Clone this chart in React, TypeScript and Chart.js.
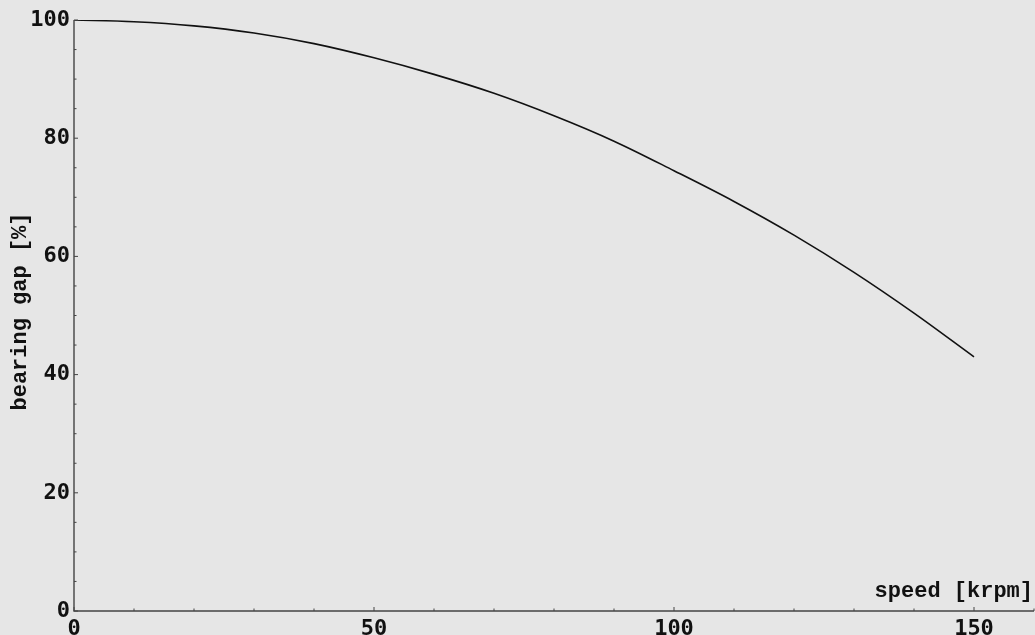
import React, { useEffect, useRef } from "react";
import { Chart, registerables } from "chart.js";

Chart.register(...registerables);

const speedKrpm = [0, 10, 20, 30, 40, 50, 60, 70, 80, 90, 100, 110, 120, 130, 140, 150];
const bearingGapPct = [100, 99.7, 99.0, 97.8, 96.0, 93.6, 90.8, 87.6, 83.8, 79.5, 74.5, 69.3, 63.6, 57.3, 50.4, 43.0];
const xTickValues = [0, 50, 100, 150];
const yTickValues = [0, 20, 40, 60, 80, 100];
const xMinorStep = 10;
const yMinorStep = 5;
const xTitle = "speed [krpm]";
const yTitle = "bearing gap [%]";

const W = 1035;
const H = 635;
const BG = "#e6e6e6";
const TITLE_FONT = "bold 22px 'Liberation Mono', 'Courier New', monospace";

const axesPlugin = {
  id: "mmaAxes",
  afterDraw(chart: any) {
    const ctx = chart.ctx;
    const xs = chart.scales.x;
    const ys = chart.scales.y;
    const left = xs.left;
    const right = xs.right;
    const top = ys.top;
    const bottom = ys.bottom;
    ctx.save();
    ctx.strokeStyle = "#444";
    ctx.lineWidth = 1.4;
    ctx.beginPath();
    ctx.moveTo(left, top);
    ctx.lineTo(left, bottom);
    ctx.lineTo(right, bottom);
    ctx.stroke();
    ctx.lineWidth = 1;
    for (let v = xs.min; v <= xs.max + 1e-9; v += xMinorStep) {
      const px = xs.getPixelForValue(v);
      const major = xTickValues.includes(v);
      ctx.beginPath();
      ctx.moveTo(px, bottom);
      ctx.lineTo(px, bottom - (major ? 4 : 2.5));
      ctx.stroke();
    }
    for (let v = ys.min; v <= ys.max + 1e-9; v += yMinorStep) {
      const py = ys.getPixelForValue(v);
      const major = yTickValues.includes(v);
      ctx.beginPath();
      ctx.moveTo(left, py);
      ctx.lineTo(left + (major ? 4 : 2.5), py);
      ctx.stroke();
    }
    ctx.fillStyle = "#111";
    ctx.font = TITLE_FONT;
    ctx.textAlign = "right";
    ctx.textBaseline = "alphabetic";
    ctx.fillText(xTitle, W - 2, 597);
    ctx.translate(26, (top + bottom) / 2 - 4);
    ctx.rotate(-Math.PI / 2);
    ctx.textAlign = "center";
    ctx.fillText(yTitle, 0, 0);
    ctx.restore();
  },
};

export default function App() {
  const ref = useRef<HTMLCanvasElement | null>(null);
  useEffect(() => {
    document.body.style.margin = "0";
    document.body.style.background = BG;
    const canvas = ref.current;
    if (!canvas) return;
    const tickFont = { family: "'DejaVu Sans Mono', monospace", size: 22, weight: "bold" as const };
    const chart = new Chart(canvas, {
      type: "line",
      data: {
        labels: speedKrpm,
        datasets: [
          {
            data: speedKrpm.map((x, i) => ({ x, y: bearingGapPct[i] })),
            borderColor: "#111",
            borderWidth: 1.6,
            pointRadius: 0,
            cubicInterpolationMode: "monotone",
            fill: false,
          },
        ],
      },
      options: {
        responsive: false,
        animation: false,
        events: [],
        layout: { padding: { top: 20, right: 1, left: 0, bottom: 0 } },
        plugins: { legend: { display: false }, tooltip: { enabled: false } },
        scales: {
          x: {
            type: "linear",
            min: 0,
            max: 160,
            grid: { display: false, drawTicks: false },
            border: { display: false },
            ticks: { font: tickFont, color: "#111", padding: 5, maxRotation: 0 },
            afterBuildTicks: (s: any) => {
              s.ticks = xTickValues.map((value) => ({ value }));
            },
            afterFit: (s: any) => {
              s.height = 24;
            },
          },
          y: {
            type: "linear",
            min: 0,
            max: 100,
            grid: { display: false, drawTicks: false },
            border: { display: false },
            ticks: { font: tickFont, color: "#111", padding: 4 },
            afterBuildTicks: (s: any) => {
              s.ticks = yTickValues.map((value) => ({ value }));
            },
            afterFit: (s: any) => {
              s.width = 74;
            },
          },
        },
      },
      plugins: [axesPlugin],
    });
    return () => chart.destroy();
  }, []);
  return (
    <div style={{ width: W, height: H, background: BG }}>
      <canvas ref={ref} width={W} height={H} style={{ display: "block" }} />
    </div>
  );
}
